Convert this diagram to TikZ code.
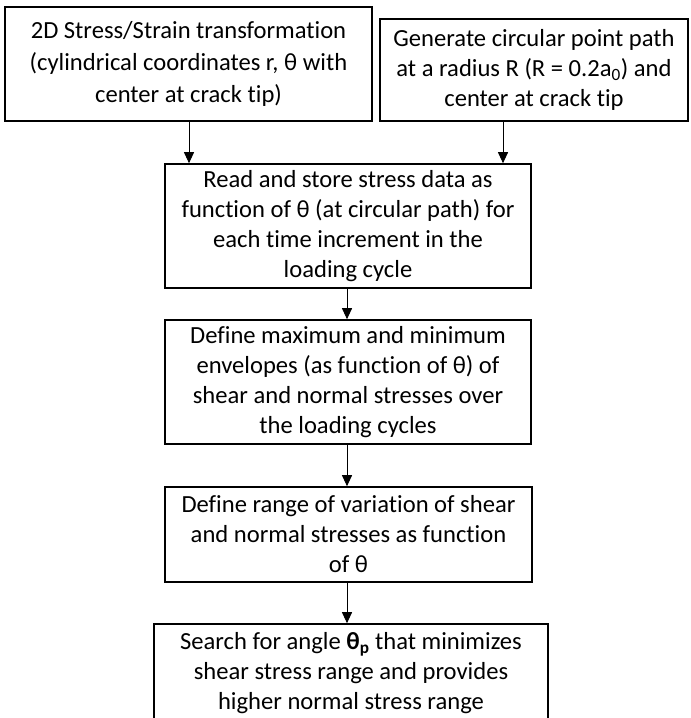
\documentclass[tikz,border=0pt]{standalone}
\usepackage{fontspec}
\setmainfont{Carlito}[Ligatures={NoCommon}]
\usetikzlibrary{arrows.meta}
\tikzset{
  flowbox/.style={draw=black, line width=1.6pt, fill=white, rectangle, inner sep=0pt, align=center,
    font=\fontsize{24.6}{30}\selectfont},
  flowarrow/.style={draw=black, line width=0.9pt, -{Triangle[width=10pt,length=11pt]}}
}
\begin{document}
\begin{tikzpicture}[x=1pt, y=-1pt]
\clip (0,0) rectangle (691,718);
\fill[white] (0,0) rectangle (691,718);
\node[flowbox, minimum width=367pt, minimum height=114pt, font=\fontsize{24.6}{32}\selectfont] (b1) at (188.5,64)
  {2D Stress/Strain transformation\\(cylindrical coordinates r, θ with\\center at crack tip)};
\node[flowbox, minimum width=308pt, minimum height=102pt] (b2) at (534,70)
  {Generate circular point path\\at a radius R (R = 0.2a\textsubscript{0}) and\\center at crack tip};
\node[flowbox, minimum width=366pt, minimum height=124pt] (b3) at (348,226)
  {Read and store stress data as\\function of θ (at circular path) for\\each time increment in the\\loading cycle};
\node[flowbox, minimum width=366pt, minimum height=124pt] (b4) at (348,382)
  {Define maximum and minimum\\envelopes (as function of θ) of\\shear and normal stresses over\\the loading cycles};
\node[flowbox, minimum width=367pt, minimum height=95pt] (b5) at (348.5,534.5)
  {Define range of variation of shear\\and normal stresses as function\\of θ};
\node[flowbox, minimum width=394pt, minimum height=98pt] (b6) at (351,673)
  {Search for angle {\bfseries θ\textsubscript{p}} that minimizes\\shear stress range and provides\\higher normal stress range};
\coordinate (a1) at (189,121);
\coordinate (a2) at (503,121);
\draw[flowarrow] (a1) -- (a1 |- b3.north);
\draw[flowarrow] (a2) -- (a2 |- b3.north);
\draw[flowarrow] (b3.south -| 347,0) -- (b4.north -| 347,0);
\draw[flowarrow] (b4.south -| 347,0) -- (b5.north -| 347,0);
\draw[flowarrow] (b5.south -| 347,0) -- (b6.north -| 347,0);
\end{tikzpicture}
\end{document}
